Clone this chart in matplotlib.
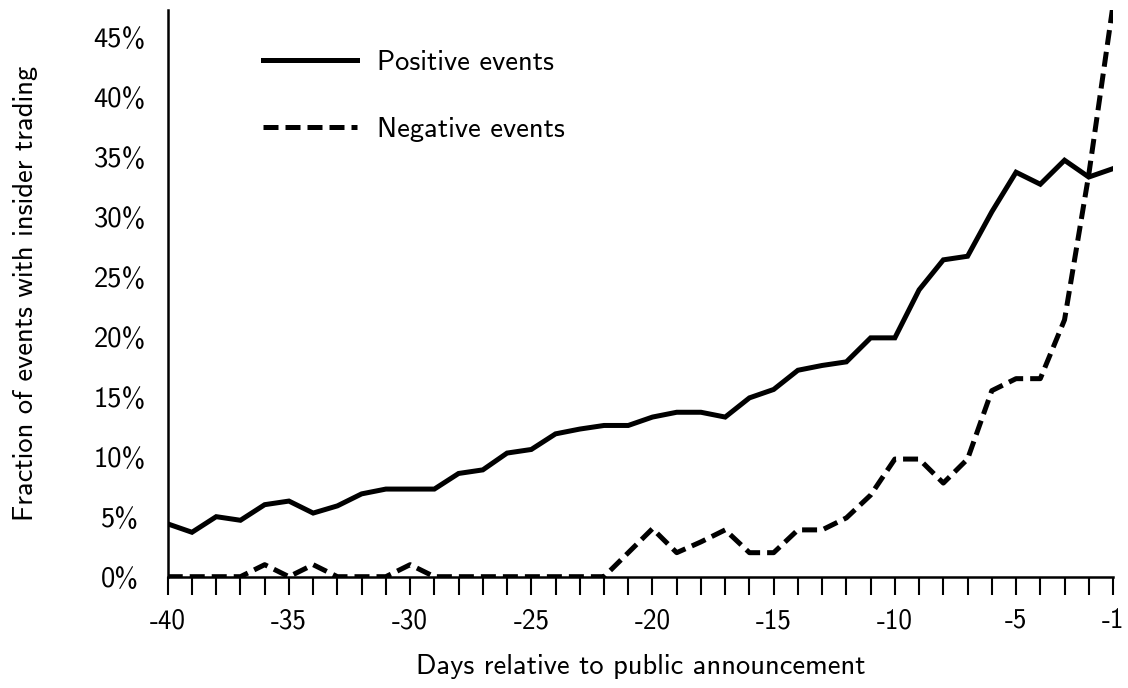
import matplotlib
matplotlib.use("Agg")
import matplotlib.pyplot as plt

plt.rcParams["font.family"] = ["cmss10", "DejaVu Sans"]
plt.rcParams["axes.unicode_minus"] = False

days = list(range(-40, 0))

# fraction of events (%) with insider trading
positive = [4.4, 3.7, 5.0, 4.7, 6.0, 6.3, 5.3, 5.9, 6.9, 7.3,
            7.3, 7.3, 8.6, 8.9, 10.3, 10.6, 11.9, 12.3, 12.6, 12.6,
            13.3, 13.7, 13.7, 13.3, 14.9, 15.6, 17.2, 17.6, 17.9, 19.9,
            19.9, 23.9, 26.4, 26.7, 30.4, 33.7, 32.7, 34.7, 33.3, 34.0]
negative = [0.0, 0.0, 0.0, 0.0, 1.0, 0.0, 1.0, 0.0, 0.0, 0.0,
            1.0, 0.0, 0.0, 0.0, 0.0, 0.0, 0.0, 0.0, 0.0, 2.0,
            4.0, 2.0, 2.9, 3.9, 2.0, 2.0, 3.9, 3.9, 4.9, 6.8,
            9.8, 9.8, 7.8, 9.8, 15.5, 16.5, 16.5, 21.4, 33.5, 47.6]

xtick_labels = ["-40", "-35", "-30", "-25", "-20", "-15", "-10", "-5", "-1"]
ytick_labels = ["0%", "5%", "10%", "15%", "20%", "25%", "30%", "35%", "40%", "45%"]

FS = 20.5

fig = plt.figure(figsize=(11.28, 6.88), dpi=100)
ax = fig.add_axes([0.1487, 0.1618, 0.838, 0.8237])

ax.plot(days, positive, color="black", lw=3.6, label="Positive events",
        solid_joinstyle="miter")
ax.plot(days, negative, color="black", lw=3.6, dashes=(3.0, 1.4),
        label="Negative events")

ax.set_xlim(-40, -1)
ax.set_ylim(0, 47.22)

ax.set_xticks(days)
ax.set_xticklabels([str(d) if str(d) in xtick_labels else "" for d in days])
ax.set_yticks(range(0, 50, 5))
ax.set_yticklabels(ytick_labels, ha="center")

ax.tick_params(axis="x", direction="out", length=13, width=1.5,
               labelsize=19.5, pad=9.7)
ax.tick_params(axis="y", length=0, labelsize=FS, pad=34.5)

for side in ("top", "right"):
    ax.spines[side].set_visible(False)
for side in ("left", "bottom"):
    ax.spines[side].set_linewidth(1.8)

ax.set_xlabel("Days relative to public announcement", fontsize=FS, labelpad=15)
ax.set_ylabel("Fraction of events with insider trading", fontsize=FS,
              labelpad=40)

ax.legend(loc="upper left", bbox_to_anchor=(0.233, 0.928),
          bbox_transform=fig.transFigure, frameon=False, fontsize=FS,
          borderpad=0, borderaxespad=0, handlelength=3.3, handletextpad=0.7,
          labelspacing=1.49)

fig.savefig("out.png", dpi=100)
